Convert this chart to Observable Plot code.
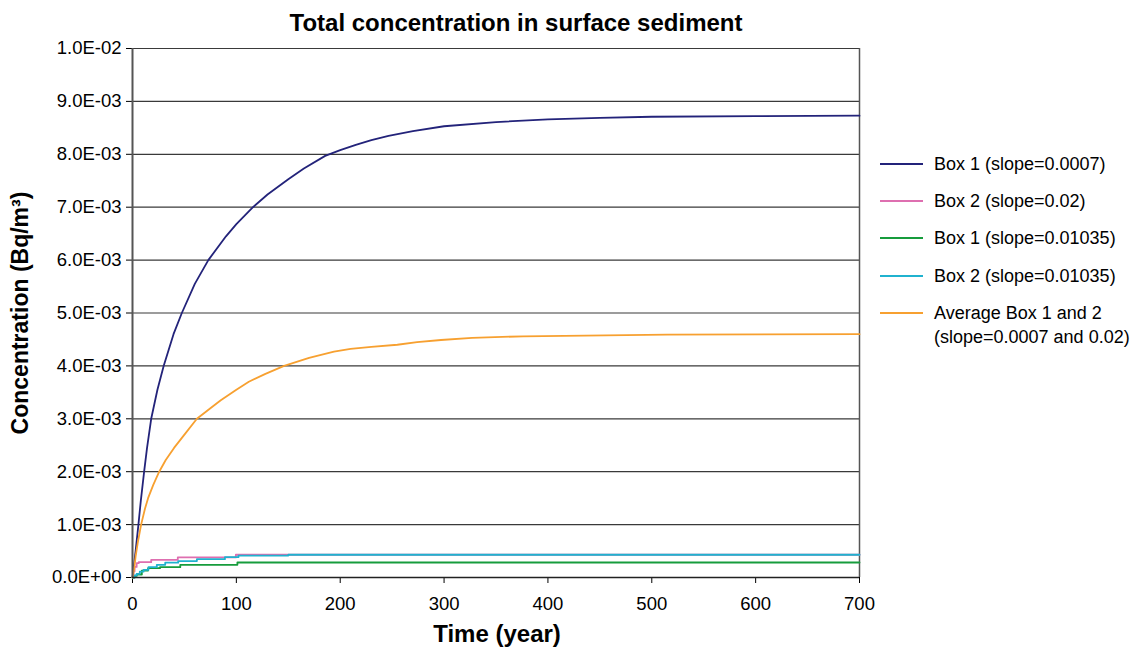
<!DOCTYPE html>
<html><head><meta charset="utf-8">
<script src="https://cdn.jsdelivr.net/npm/d3@7"></script>
<script src="https://cdn.jsdelivr.net/npm/@observablehq/plot@0.6"></script>
<style>
body{margin:0;background:#fff;font-family:"Liberation Sans",Arial,sans-serif;}
#wrap{position:relative;width:1141px;height:648px;overflow:hidden;background:#fff}
#chart{position:absolute;left:0;top:0}
.abs{position:absolute;white-space:nowrap;color:#000;line-height:1}
.title{font-weight:bold;font-size:24px}
.leg{font-size:18px;line-height:24px}
.sw{position:absolute;width:43px;height:2px}
</style></head><body>
<div id="wrap"><div id="chart"></div></div>
<script>
// ---- data ----
const titleText = "Total concentration in surface sediment";
const xLabel = "Time (year)";
const yLabel = "Concentration (Bq/m³)";
const xTicks = [0, 100, 200, 300, 400, 500, 600, 700];
const yTicks = [0, 0.001, 0.002, 0.003, 0.004, 0.005, 0.006, 0.007, 0.008, 0.009, 0.01];

const seriesLabels = ["Box 1 (slope=0.0007)", "Box 2 (slope=0.02)", "Box 1 (slope=0.01035)", "Box 2 (slope=0.01035)", "Average Box 1 and 2\n(slope=0.0007 and 0.02)"];
const seriesColors = ["#23237a", "#de6fb0", "#169c3c", "#20b2cf", "#f7a030"];

// [time (year), concentration (Bq/m3)]
const box1Slope0007 = [[0,0],[1.5,0.00025],[3,0.0005],[5.7,0.001],[8,0.00145],[11.2,0.002],[14,0.00245],[18,0.003],[24,0.00355],[30,0.004],[39.5,0.0046],[47.5,0.005],[60,0.00555],[73,0.006],[90,0.00645],[100,0.00668],[116,0.007],[130,0.00724],[150,0.00753],[165,0.00773],[185.5,0.00797],[200,0.00808],[215,0.00818],[230,0.00827],[246.5,0.00835],[270,0.00844],[300,0.00853],[350,0.00861],[400,0.00866],[450,0.00869],[500,0.00871],[600,0.00872],[700,0.00873]];
const box2Slope002 = [[0,0],[1,0.00012],[2,0.0002],[4,0.00027],[6,0.00029],[18,0.000335],[43.6,0.00038],[99.5,0.00043],[700,0.00043]];
const box1Slope01035 = [[0,0],[2,0.00003],[4,0.000057],[9,0.00013],[15,0.000176],[26.5,0.000195],[46,0.00024],[101,0.000284],[700,0.000284]];
const box2Slope01035 = [[0,0],[2,0.00004],[4,0.00007],[7,0.00011],[10.6,0.000146],[15.4,0.000195],[23.4,0.00024],[31.5,0.00028],[44,0.00031],[62,0.000346],[89,0.000384],[102,0.000415],[150,0.00043],[700,0.00043]];
const averageBox12 = [[0,0],[1.5,0.00015],[3,0.0004],[5,0.00065],[8.3,0.001],[12,0.0013],[15,0.0015],[20,0.00175],[25.7,0.002],[32,0.00222],[40,0.00245],[50,0.0027],[62,0.003],[75,0.0032],[85,0.00335],[100,0.00355],[112,0.0037],[128,0.00385],[146,0.004],[170,0.00415],[194,0.00427],[210,0.00432],[230,0.00436],[255,0.0044],[274,0.00445],[297,0.00449],[327,0.00453],[376,0.00456],[515,0.00459],[700,0.0046]];

const seriesData = [box1Slope0007, box2Slope002, box1Slope01035, box2Slope01035, averageBox12];
const seriesCurves = ["linear", "step-after", "step-after", "step-after", "linear"];

// ---- chart ----
function sci(v) {
  if (v === 0) return "0.0E+00";
  const e = Math.floor(Math.log10(v) + 1e-9);
  const m = v / Math.pow(10, e);
  return m.toFixed(1) + "E" + (e < 0 ? "-" : "+") + String(Math.abs(e)).padStart(2, "0");
}

const lineMarks = seriesData.map((d, i) => Plot.line(d, {
  x: p => p[0], y: p => p[1], stroke: seriesColors[i], strokeWidth: 1.8, curve: seriesCurves[i]
}));

const plot = Plot.plot({
  width: 1141,
  height: 648,
  marginLeft: 132,
  marginRight: 282,
  marginTop: 48,
  marginBottom: 71,
  style: {fontSize: "18.5px", fontFamily: "Liberation Sans, Arial, sans-serif", background: "#fff", color: "#000"},
  x: {domain: [0, 700], ticks: xTicks, tickFormat: d => String(d), tickSize: 6, tickPadding: 13, label: null},
  y: {domain: [0, 0.01], ticks: yTicks, tickFormat: sci, tickSize: 6, tickPadding: 5, label: null},
  marks: [
    Plot.ruleY(yTicks.slice(1), {stroke: "#3a3a3a", strokeWidth: 1.2}),
    Plot.ruleX([700], {stroke: "#555", strokeWidth: 1.5}),
    ...lineMarks,
    Plot.ruleX([0], {stroke: "#555", strokeWidth: 2}),
    Plot.ruleY([0], {stroke: "#222", strokeWidth: 1.5})
  ]
});
document.getElementById("chart").appendChild(plot);

const wrap = document.getElementById("wrap");
function addText(txt, cls, css) {
  const d = document.createElement("div");
  d.className = "abs " + cls;
  d.textContent = txt;
  Object.assign(d.style, css);
  wrap.appendChild(d);
  return d;
}
addText(titleText, "title", {left: "516px", top: "11px", transform: "translateX(-50%)"});
addText(xLabel, "title", {left: "497px", top: "622px", transform: "translateX(-50%)"});
addText(yLabel, "title", {left: "20px", top: "313px", fontSize: "23px", transform: "translate(-50%,-50%) rotate(-90deg)"});

// legend
const rowY = [164, 201, 238, 276, 313];
seriesLabels.forEach((lab, i) => {
  const sw = document.createElement("div");
  sw.className = "sw";
  Object.assign(sw.style, {left: "880px", top: (rowY[i] - 1) + "px", background: seriesColors[i]});
  wrap.appendChild(sw);
  const t = addText("", "leg", {left: "934px", top: (rowY[i] - 12) + "px"});
  t.innerHTML = lab.split("\n").join("<br>");
});
</script>
</body></html>
